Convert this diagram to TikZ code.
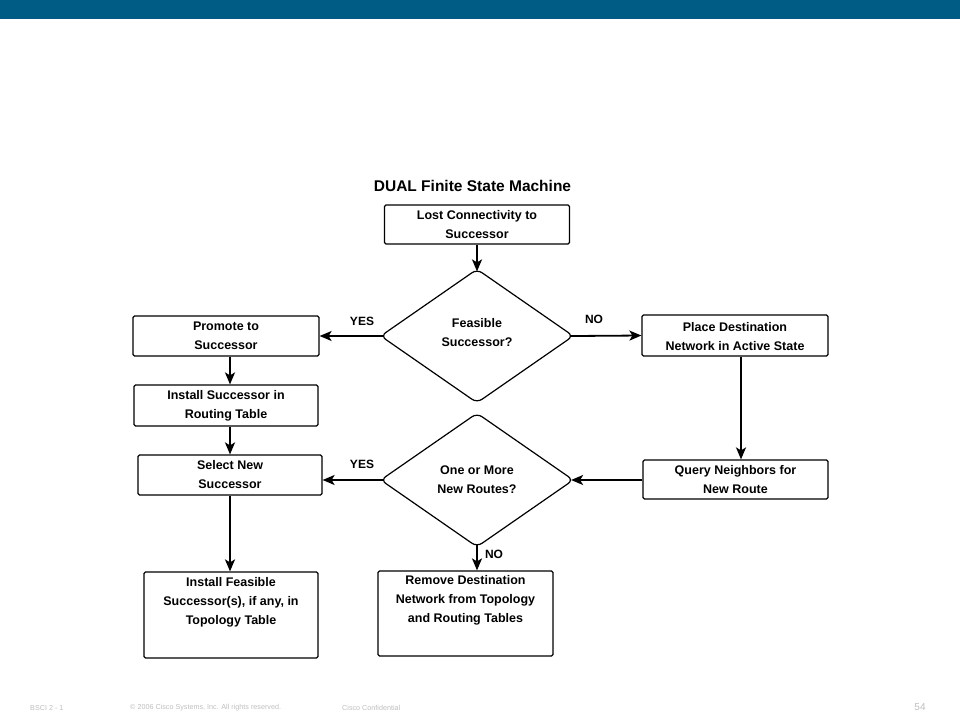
\documentclass[tikz,border=0pt]{standalone}
\usepackage{fontspec}
\setmainfont{Liberation Sans}
\usetikzlibrary{shapes.geometric,arrows.meta}
\definecolor{ciscoblue}{RGB}{0,91,133}
\definecolor{footgray}{RGB}{190,190,190}
\tikzset{
  box/.style={draw, line width=1.2pt, rounded corners=1.5pt, inner sep=0pt},
  dec/.style={draw, diamond, line width=1.2pt, rounded corners=6pt, inner sep=0pt,
    minimum width=193pt, minimum height=134pt},
  txt/.style={align=center, inner sep=0pt, font=\fontsize{12.5}{19}\selectfont\bfseries},
  lbl/.style={inner sep=0pt, font=\fontsize{12}{14}\selectfont\bfseries},
  conn/.style={line width=1.8pt, -{Stealth[length=12pt,width=10pt,inset=3pt]}},
  foot/.style={inner sep=0pt, anchor=west, text=footgray, font=\fontsize{7.2}{8}\selectfont}
}
\begin{document}
\begin{tikzpicture}[x=1pt,y=-1pt]
\useasboundingbox (0,0) rectangle (960,720);
\fill[ciscoblue] (0,0) rectangle (960,19);

\node[inner sep=0pt, font=\fontsize{15.5}{18}\selectfont\bfseries] (title) at (472.5,186) {DUAL Finite State Machine};

% boxes
\node[box, minimum width=185pt, minimum height=39pt] (lost) at (477,224.5) {};
\node[txt] (losttxt) at (lost) {Lost Connectivity to\\Successor};

\node[dec] (feas) at (477,336) {};
\node[txt] (feastxt) at (477,333) {Feasible\\Successor?};

\node[box, minimum width=186pt, minimum height=40pt] (prom) at (226,336) {};
\node[txt] (promtxt) at (prom) {Promote to\\Successor};

\node[box, minimum width=186pt, minimum height=41pt] (place) at (735,335.5) {};
\node[txt] (placetxt) at (735,336.5) {Place Destination\\Network in Active State};

\node[box, minimum width=184pt, minimum height=41pt] (inst) at (226,405.5) {};
\node[txt] (insttxt) at (inst) {Install Successor in\\Routing Table};

\node[box, minimum width=184pt, minimum height=40pt] (sel) at (230,475) {};
\node[txt] (seltxt) at (sel) {Select New\\Successor};

\node[box, minimum width=185pt, minimum height=39pt] (query) at (735.5,479.5) {};
\node[txt] (querytxt) at (query) {Query Neighbors for\\New Route};

\node[dec] (more) at (477,480) {};
\node[txt] (moretxt) at (more) {One or More\\New Routes?};

\node[box, minimum width=174pt, minimum height=86pt] (ifs) at (231,615) {};
\node[txt, anchor=north] (ifstxt) at ([yshift=-6pt]ifs.north) {Install Feasible\\Successor(s), if any, in\\Topology Table};

\node[box, minimum width=175pt, minimum height=85pt] (rem) at (465.5,613.5) {};
\node[txt, anchor=north] (remtxt) at ([yshift=-5pt]rem.north) {Remove Destination\\Network from Topology\\and Routing Tables};

% labels
\node[lbl] (yes1) at (362,321) {YES};
\node[lbl] (no1) at (594,319.5) {NO};
\node[lbl] (yes2) at (362,464) {YES};
\node[lbl] (no2) at (494,554) {NO};

% connectors
\draw[conn, shorten >=-3pt] (lost.south) -- (feas.north);
\draw[conn, shorten <=-3pt] (feas.west) -- (prom.east);
\draw[conn, shorten <=-3pt] (feas.east) -- (place.west);
\draw[conn] (prom.south -| sel.south) -- (inst.north -| sel.south);
\draw[conn] (inst.south -| sel.south) -- (sel.north);
\draw[conn] ([xshift=6pt]place.south) -- ([xshift=6pt]place.south |- query.north);
\draw[conn, shorten >=-3pt] (query.west |- more.east) -- (more.east);
\draw[conn, shorten <=-3pt] (more.west) -- (more.west -| sel.east);
\draw[conn, shorten <=-3pt] (more.south) -- (more.south |- rem.north);
\draw[conn] (sel.south) -- (sel.south |- ifs.north);

% footer
\node[foot] (f1) at (30,708) {BSCI 2 - 1};
\node[foot] (f2) at (130,708) {© 2006 Cisco Systems, Inc. All rights reserved.};
\node[foot] (f3) at (342,708) {Cisco Confidential};
\node[inner sep=0pt, text=footgray, font=\fontsize{10}{12}\selectfont] (pg) at (920,707) {54};
\end{tikzpicture}
\end{document}
